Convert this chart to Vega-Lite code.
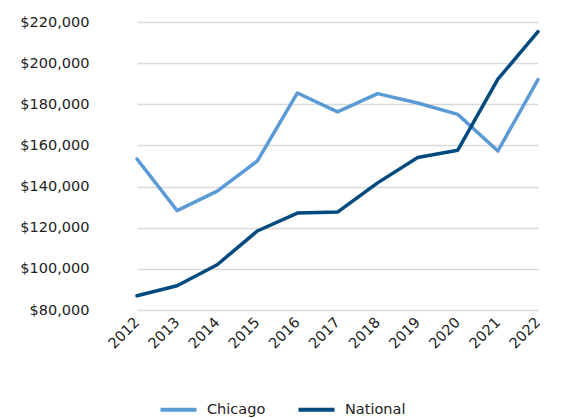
{
  "$schema": "https://vega.github.io/schema/vega-lite/v6.json",
  "width": 472,
  "height": 288,
  "autosize": {"type": "none"},
  "padding": {"left": 98, "top": 22, "right": 0, "bottom": 108},
  "background": "white",
  "config": {
    "view": {"stroke": null},
    "font": "DejaVu Sans",
    "axis": {"labelFont": "DejaVu Sans", "labelFontSize": 14.5, "labelColor": "#222222"},
    "legend": {"labelFont": "DejaVu Sans", "labelFontSize": 14.5, "labelColor": "#222222"}
  },
  "data": {
    "values": [
      {"year": "2012", "series": "Chicago", "value": 153400},
      {"year": "2013", "series": "Chicago", "value": 128300},
      {"year": "2014", "series": "Chicago", "value": 137800},
      {"year": "2015", "series": "Chicago", "value": 152400},
      {"year": "2016", "series": "Chicago", "value": 185500},
      {"year": "2017", "series": "Chicago", "value": 176300},
      {"year": "2018", "series": "Chicago", "value": 185200},
      {"year": "2019", "series": "Chicago", "value": 180600},
      {"year": "2020", "series": "Chicago", "value": 175100},
      {"year": "2021", "series": "Chicago", "value": 157300},
      {"year": "2022", "series": "Chicago", "value": 192000},
      {"year": "2012", "series": "National", "value": 86900},
      {"year": "2013", "series": "National", "value": 91800},
      {"year": "2014", "series": "National", "value": 102000},
      {"year": "2015", "series": "National", "value": 118400},
      {"year": "2016", "series": "National", "value": 127100},
      {"year": "2017", "series": "National", "value": 127600},
      {"year": "2018", "series": "National", "value": 141800},
      {"year": "2019", "series": "National", "value": 154100},
      {"year": "2020", "series": "National", "value": 157700},
      {"year": "2021", "series": "National", "value": 192200},
      {"year": "2022", "series": "National", "value": 215300}
    ]
  },
  "mark": {"type": "line", "strokeWidth": 3.5, "strokeCap": "round", "strokeJoin": "round"},
  "encoding": {
    "x": {
      "field": "year",
      "type": "ordinal",
      "scale": {"type": "point", "range": [39, 440], "padding": 0},
      "axis": {
        "title": null,
        "labelAngle": -45,
        "labelAlign": "right",
        "labelBaseline": "middle",
        "ticks": false,
        "domain": false,
        "grid": false,
        "labelPadding": 10
      }
    },
    "y": {
      "field": "value",
      "type": "quantitative",
      "scale": {"domain": [80000, 220000], "nice": false, "zero": false},
      "axis": {
        "title": null,
        "values": [80000, 100000, 120000, 140000, 160000, 180000, 200000, 220000],
        "format": "$,.0f",
        "ticks": false,
        "domain": false,
        "gridColor": "#d9d9d9",
        "gridWidth": 1.5,
        "labelPadding": 9
      }
    },
    "color": {
      "field": "series",
      "type": "nominal",
      "scale": {"domain": ["Chicago", "National"], "range": ["#5B9BD5", "#004A80"]},
      "legend": {
        "title": null,
        "orient": "none",
        "direction": "horizontal",
        "legendX": 60,
        "legendY": 367,
        "symbolType": "stroke",
        "symbolStrokeWidth": 4,
        "symbolSize": 1300,
        "columnPadding": 24,
        "labelOffset": 8
      }
    }
  }
}
